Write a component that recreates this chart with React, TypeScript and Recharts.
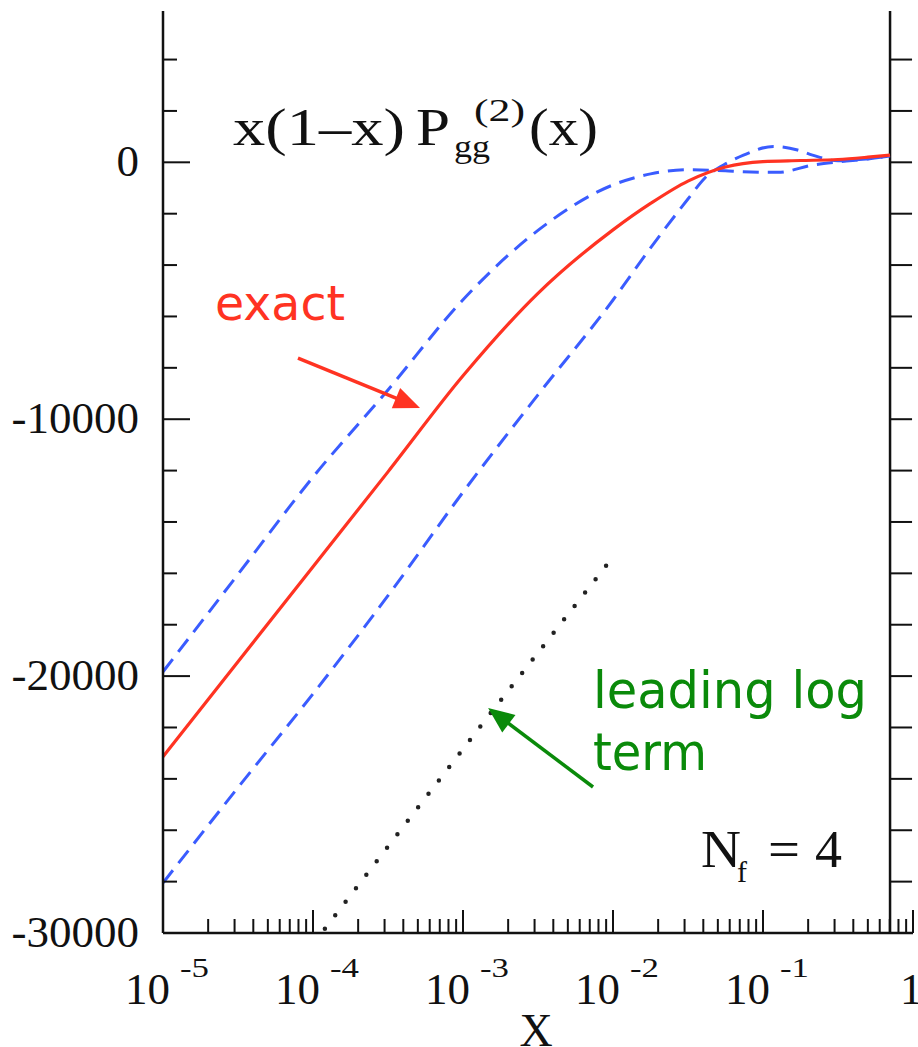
import React from "react";
import { LineChart, Line, XAxis, YAxis, ReferenceLine } from "recharts";

// x(1-x) P_gg^(2)(x): exact result, the two dashed estimates, and the leading log term
const exactX = [1e-5, 3.16e-5, 1e-4, 3.16e-4, 1e-3, 3.16e-3, 1e-2, 1.78e-2, 3.16e-2, 5.62e-2, 0.1, 0.178, 0.316, 0.5, 0.703];
const exactY = [-23140, -19440, -15740, -12050, -8310, -5100, -2630, -1600, -730, -180, 30, 70, 110, 200, 280];

const upperX = [1e-5, 3.16e-5, 1e-4, 3.16e-4, 1e-3, 3.16e-3, 1e-2, 1.78e-2, 3.16e-2, 5.62e-2, 7.36e-2, 0.126, 0.215, 0.326, 0.5, 0.703];
const upperY = [-19830, -16040, -12250, -8860, -5350, -2650, -880, -450, -290, -330, -366, -390, -105, 23, 130, 245];

const lowerX = [1e-5, 3.16e-5, 1e-4, 3.16e-4, 1e-3, 3.16e-3, 1e-2, 1.78e-2, 3.16e-2, 0.041, 0.0575, 0.0741, 0.1175, 0.17, 0.214, 0.316, 0.5, 0.703];
const lowerY = [-28050, -24340, -20690, -16870, -12840, -9050, -5360, -3330, -1430, -610, -30, 280, 620, 480, 280, 60, 140, 245];

const leadingX = [1.2e-4, 1.5e-3, 9.3e-3];
const leadingY = [-29830, -21500, -15600];

// axis ticks and labels
const MAJOR_X_TICKS = [1e-5, 1e-4, 1e-3, 1e-2, 1e-1, 1];
const X_TICK_BASES = ["10", "10", "10", "10", "10", "1"];
const X_TICK_EXPONENTS = ["-5", "-4", "-3", "-2", "-1", ""];
const Y_LABELED = [-30000, -20000, -10000, 0];
const Y_MIN = -30000;
const Y_MAX = 5890;

// annotation arrows (tail -> head), in data coordinates
const exactArrow = [
  { x: 7.94e-5, y: -7618 },
  { x: 5.17e-4, y: -9564 },
];
const leadingArrow = [
  { x: 7.36e-3, y: -24317 },
  { x: 1.47e-3, y: -21243 },
];
const CUT_X = 0.703;

const zip = (xs: number[], ys: number[]) => xs.map((x, i) => ({ x, y: ys[i] }));

const minorXTicks: number[] = [];
for (const d of [1e-5, 1e-4, 1e-3, 1e-2, 1e-1]) {
  for (let k = 2; k <= 9; k++) minorXTicks.push(k * d);
}
const X_TICKS = [...MAJOR_X_TICKS, ...minorXTicks].sort((a, b) => a - b);
const Y_TICKS: number[] = [];
for (let v = -30000; v <= 4000; v += 2000) Y_TICKS.push(v);

const AXIS = "#111";
const SERIF = "'Liberation Serif', 'Times New Roman', serif";
const SANS = "'DejaVu Sans', Verdana, sans-serif";
const RED = "#ff3322";
const BLUE = "#3a5cff";
const GREEN = "#0a8a0a";

const majorIndex = (v: number) => MAJOR_X_TICKS.findIndex((t) => Math.abs(t - v) / t < 1e-6);

function BottomTick(props: any) {
  const { x, y, payload } = props;
  const i = majorIndex(payload.value);
  const major = i >= 0;
  return (
    <g>
      <line x1={x} x2={x} y1={y} y2={y - (major ? 23 : 14)} stroke={AXIS} strokeWidth={2} />
      {major && X_TICK_EXPONENTS[i] !== "" && (
        <g fontFamily={SERIF} fill="#111">
          <text x={x - 38} y={y + 71} fontSize={45}>{X_TICK_BASES[i]}</text>
          <text x={x + 17} y={y + 44} fontSize={28} textLength={29} lengthAdjust="spacingAndGlyphs">
            {X_TICK_EXPONENTS[i]}
          </text>
        </g>
      )}
      {major && X_TICK_EXPONENTS[i] === "" && (
        <text x={x - 13} y={y + 71} fontSize={45} fontFamily={SERIF} fill="#111">
          {X_TICK_BASES[i]}
        </text>
      )}
    </g>
  );
}

function TopTick(props: any) {
  const { x, y, payload } = props;
  const major = majorIndex(payload.value) >= 0;
  return <line x1={x} x2={x} y1={y} y2={y + (major ? 23 : 12)} stroke={AXIS} strokeWidth={2} />;
}

function LeftTick(props: any) {
  const { x, y, payload } = props;
  const major = Y_LABELED.includes(payload.value);
  return (
    <g>
      <line x1={x} x2={x + (major ? 27 : 14)} y1={y} y2={y} stroke={AXIS} strokeWidth={2} />
      {major && (
        <text x={x - 24} y={y + 14} textAnchor="end" fontSize={45} fontFamily={SERIF} fill="#111">
          {payload.value}
        </text>
      )}
    </g>
  );
}

// vertical frame line with outward ticks every 2000
function CutLine(props: any) {
  const { x1, y1, y2 } = props;
  const top = Math.min(y1, y2);
  const bottom = Math.max(y1, y2);
  const toPx = (v: number) => bottom - ((v - Y_MIN) / (Y_MAX - Y_MIN)) * (bottom - top);
  return (
    <g>
      <line x1={x1} x2={x1} y1={top} y2={bottom} stroke={AXIS} strokeWidth={2.5} />
      {Y_TICKS.map((v) => (
        <line key={v} x1={x1} x2={x1 + 22} y1={toPx(v)} y2={toPx(v)} stroke={AXIS} strokeWidth={2} />
      ))}
    </g>
  );
}

function Arrow(props: any) {
  const { x1, y1, x2, y2, color } = props;
  const len = Math.hypot(x2 - x1, y2 - y1);
  const ux = (x2 - x1) / len;
  const uy = (y2 - y1) / len;
  const head = 26;
  const half = 11;
  const bx = x2 - ux * head;
  const by = y2 - uy * head;
  const pts = `${x2},${y2} ${bx - uy * half},${by + ux * half} ${bx + uy * half},${by - ux * half}`;
  return (
    <g>
      <line x1={x1} y1={y1} x2={bx + ux * 2} y2={by + uy * 2} stroke={color} strokeWidth={3.5} />
      <polygon points={pts} fill={color} />
    </g>
  );
}

export default function App() {
  return (
    <div style={{ position: "absolute", left: 0, top: 0, width: 918, height: 1047, background: "#fff" }}>
      <LineChart width={918} height={1047} margin={{ top: 11, right: 5, bottom: 0, left: 0 }}>
        <XAxis
          xAxisId="bottom"
          dataKey="x"
          type="number"
          scale="log"
          domain={[1e-5, 1]}
          allowDataOverflow
          ticks={X_TICKS}
          interval={0}
          height={114}
          tickSize={0}
          tickMargin={0}
          tickLine={false}
          axisLine={{ stroke: AXIS, strokeWidth: 2.5 }}
          tick={(p: any) => <BottomTick {...p} />}
        />
        <XAxis
          xAxisId="top"
          orientation="top"
          dataKey="x"
          type="number"
          scale="log"
          domain={[1e-5, 1]}
          allowDataOverflow
          ticks={X_TICKS}
          interval={0}
          height={0}
          tickSize={0}
          tickMargin={0}
          tickLine={false}
          axisLine={{ stroke: AXIS, strokeWidth: 2.5 }}
          tick={(p: any) => <TopTick {...p} />}
        />
        <YAxis
          type="number"
          domain={[Y_MIN, Y_MAX]}
          allowDataOverflow
          ticks={Y_TICKS}
          interval={0}
          width={163}
          tickSize={0}
          tickMargin={0}
          tickLine={false}
          axisLine={{ stroke: AXIS, strokeWidth: 2.5 }}
          tick={(p: any) => <LeftTick {...p} />}
        />
        <ReferenceLine xAxisId="bottom" x={CUT_X} shape={(p: any) => <CutLine {...p} />} />
        <Line
          xAxisId="bottom"
          data={zip(upperX, upperY)}
          dataKey="y"
          type="monotone"
          stroke={BLUE}
          strokeWidth={3}
          strokeDasharray="16 9"
          dot={false}
          isAnimationActive={false}
        />
        <Line
          xAxisId="bottom"
          data={zip(lowerX, lowerY)}
          dataKey="y"
          type="monotone"
          stroke={BLUE}
          strokeWidth={3}
          strokeDasharray="16 9"
          dot={false}
          isAnimationActive={false}
        />
        <Line
          xAxisId="bottom"
          data={zip(exactX, exactY)}
          dataKey="y"
          type="monotone"
          stroke={RED}
          strokeWidth={3.2}
          dot={false}
          isAnimationActive={false}
        />
        <Line
          xAxisId="bottom"
          data={zip(leadingX, leadingY)}
          dataKey="y"
          type="linear"
          stroke="#222"
          strokeWidth={4.5}
          strokeLinecap="round"
          strokeDasharray="0 17"
          dot={false}
          isAnimationActive={false}
        />
        <ReferenceLine
          xAxisId="bottom"
          segment={exactArrow}
          shape={(p: any) => <Arrow {...p} color={RED} />}
        />
        <ReferenceLine
          xAxisId="bottom"
          segment={leadingArrow}
          shape={(p: any) => <Arrow {...p} color={GREEN} />}
        />
      </LineChart>
      <svg
        width={918}
        height={1047}
        style={{ position: "absolute", left: 0, top: 0, pointerEvents: "none" }}
      >
        <g fontFamily={SERIF} fill="#111">
          <text x={233} y={145} fontSize={52} textLength={172} lengthAdjust="spacingAndGlyphs">x(1–x)</text>
          <text x={416} y={145} fontSize={52} textLength={34} lengthAdjust="spacingAndGlyphs">P</text>
          <text x={454} y={157} fontSize={32} textLength={36} lengthAdjust="spacingAndGlyphs">gg</text>
          <text x={474} y={121} fontSize={32} textLength={51} lengthAdjust="spacingAndGlyphs">(2)</text>
          <text x={529} y={145} fontSize={52} textLength={69} lengthAdjust="spacingAndGlyphs">(x)</text>
          <text x={701} y={867} fontSize={52} textLength={40} lengthAdjust="spacingAndGlyphs">N</text>
          <text x={737} y={882} fontSize={30}>f</text>
          <text x={768} y={867} fontSize={52} textLength={32} lengthAdjust="spacingAndGlyphs">=</text>
          <text x={815} y={867} fontSize={52} textLength={27} lengthAdjust="spacingAndGlyphs">4</text>
          <text x={536} y={1046} fontSize={46} textAnchor="middle">X</text>
        </g>
        <g fontFamily={SANS}>
          <text x={215} y={320} fontSize={48} fill={RED} textLength={130} lengthAdjust="spacingAndGlyphs">exact</text>
          <text x={593} y={708} fontSize={51} fill={GREEN} textLength={274} lengthAdjust="spacingAndGlyphs">leading log</text>
          <text x={593} y={770} fontSize={51} fill={GREEN} textLength={114} lengthAdjust="spacingAndGlyphs">term</text>
        </g>
      </svg>
    </div>
  );
}
